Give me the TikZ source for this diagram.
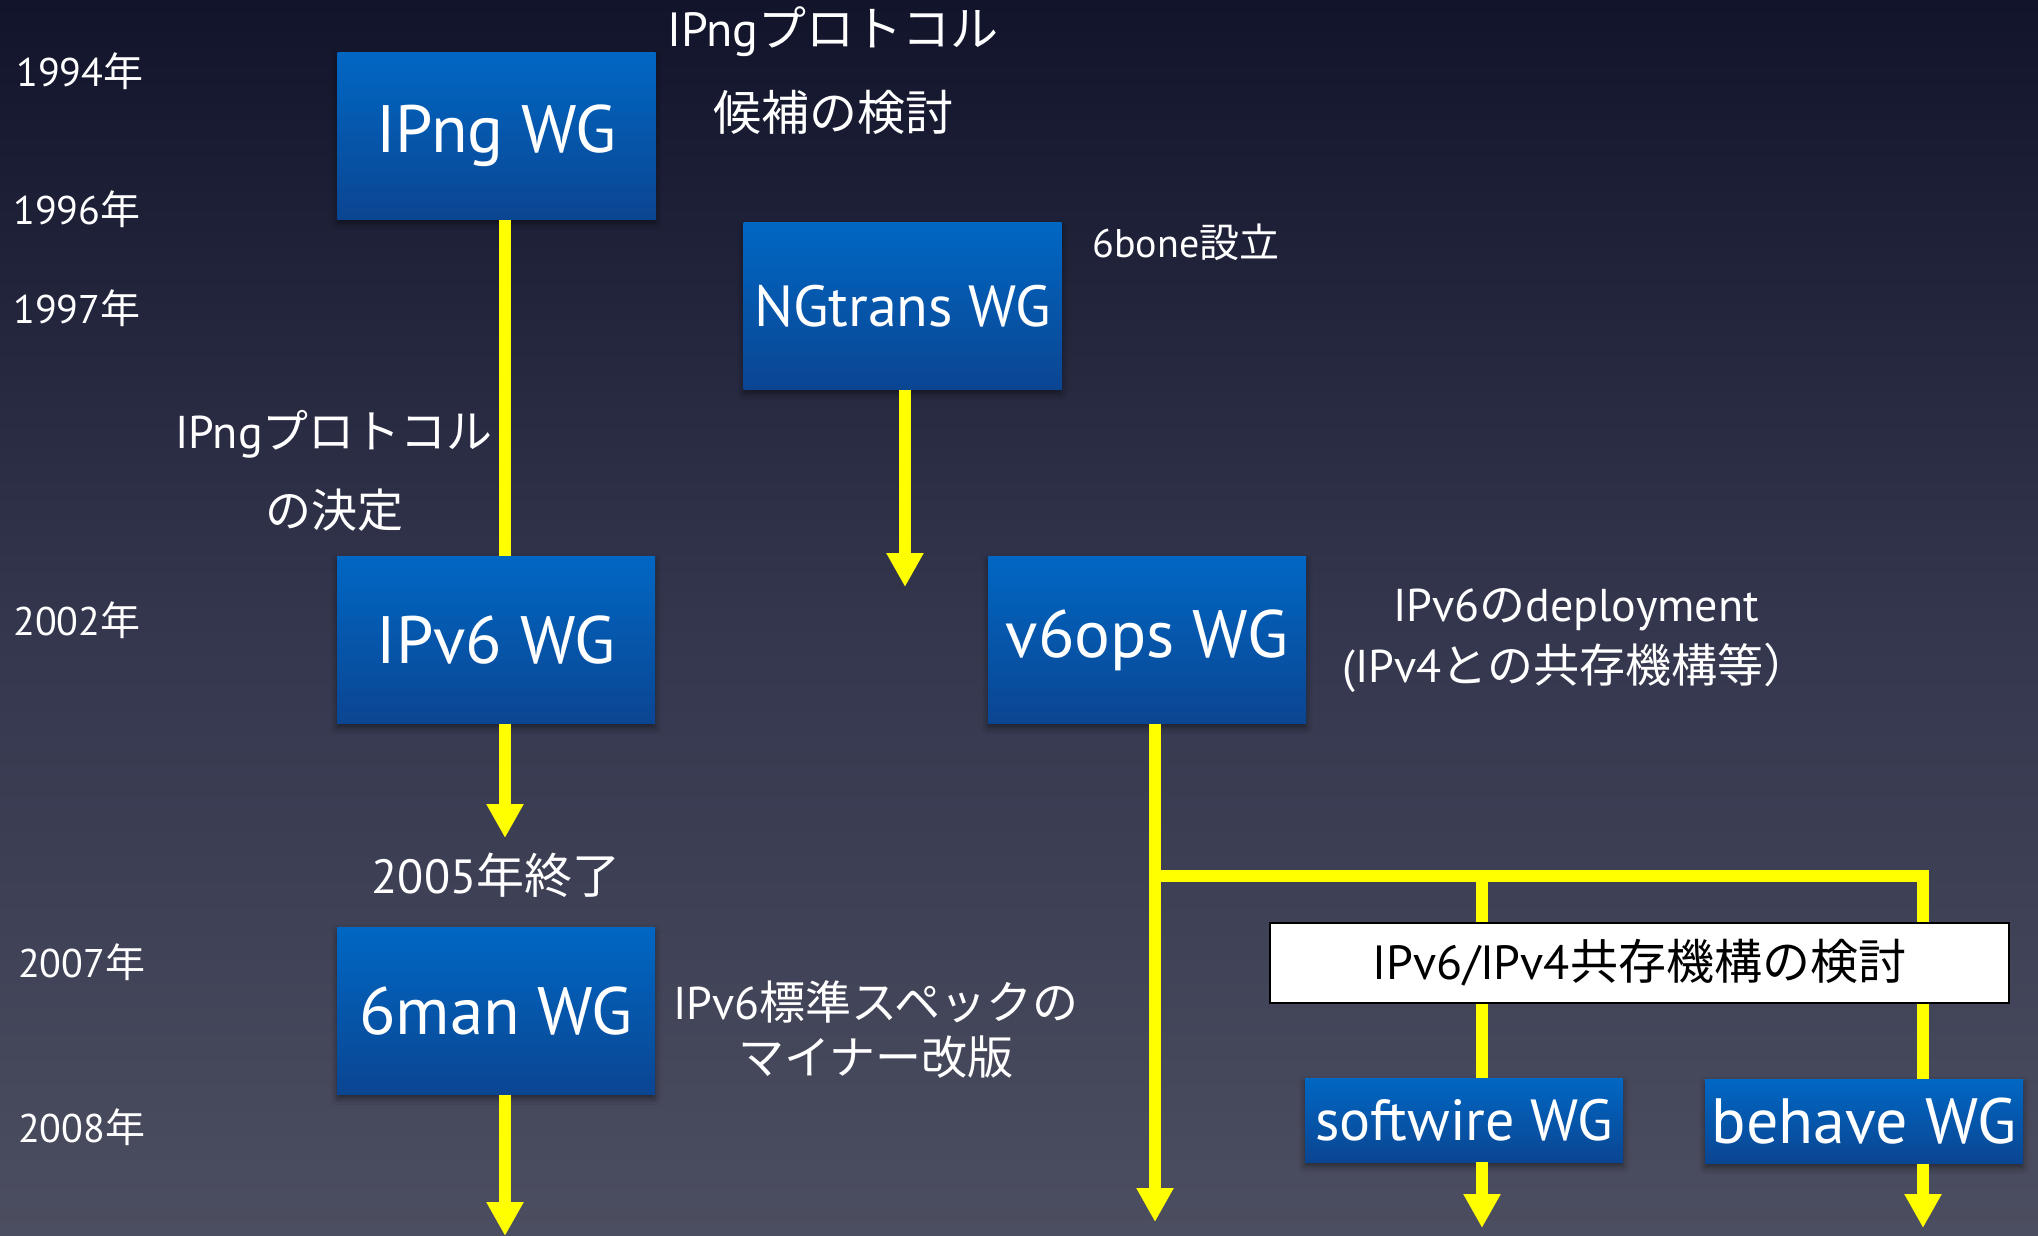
\documentclass[tikz,border=0pt]{standalone}
\usepackage{fontspec}
\setmainfont{PT Sans}
\newfontfamily\jp{Noto Sans CJK JP}
\usetikzlibrary{arrows.meta,shadows.blur}

\definecolor{bgtop}{HTML}{000003}
\definecolor{bgupper}{HTML}{0B0D24}
\definecolor{bgmid}{HTML}{33364D}
\definecolor{bgbot}{HTML}{646573}
\definecolor{boxtop}{HTML}{0067C3}
\definecolor{boxbot}{HTML}{0B4592}
\definecolor{flowyellow}{HTML}{FFFF00}

\pgfdeclareverticalshading{bgshade}{100bp}{%
  color(0bp)=(bgbot); color(50bp)=(bgmid); color(80bp)=(bgupper); color(100bp)=(bgtop)}

\begin{document}
\begin{tikzpicture}[x=1pt,y=-1pt,
  wg/.style={shade, top color=boxtop, bottom color=boxbot, text=white,
    minimum width=318pt, minimum height=167pt, inner sep=0pt,
    font=\fontsize{67}{70}\selectfont,
    blur shadow={shadow xshift=0pt, shadow yshift=-4pt,
      shadow blur radius=6pt, shadow opacity=45}},
  wgsmall/.style={wg, minimum height=84pt, font=\fontsize{58}{62}\selectfont},
  year/.style={text=white, anchor=west, inner sep=0pt,
    font=\fontsize{40}{44}\selectfont},
  note/.style={text=white, align=center, inner sep=0pt},
  flow/.style={draw=flowyellow, line width=12pt},
  flowarrow/.style={-{Triangle[width=35pt,length=34pt]}},
  topic/.style={draw=black, line width=1.2pt, fill=white, text=black,
    minimum width=739pt, minimum height=80pt, inner sep=0pt,
    font=\fontsize{48}{52}\selectfont}]

% backdrop
\fill[shading=bgshade] (0,0) rectangle (2038,1236);
\useasboundingbox (0,0) rectangle (2038,1236);

% years
\node[year] (y1994) at (16,71)   {1994{\jp 年}};
\node[year] (y1996) at (13,209)  {1996{\jp 年}};
\node[year] (y1997) at (13,308)  {1997{\jp 年}};
\node[year] (y2002) at (13,620)  {2002{\jp 年}};
\node[year] (y2007) at (18,962)  {2007{\jp 年}};
\node[year] (y2008) at (18,1127) {2008{\jp 年}};

% working groups
\node[wg] (ipng)    at (496.5,136)  {IPng WG};
\node[wg, font=\fontsize{58}{62}\selectfont] (ngtrans) at (902.5,306) {NGtrans WG};
\node[wg] (ipv6)    at (496,640)    {IPv6 WG};
\node[wg] (v6ops)   at (1147,640)   {v6ops WG};
\node[wg] (sixman)  at (496,1011)   {6man WG};
\node[wgsmall, font=\fontsize{58}{62}\selectfont] (softwire) at (1464,1120) {softwire WG};
\node[wgsmall, font=\fontsize{64}{68}\selectfont] (behave)   at (1864,1121.5) {behave WG};

% annotations
\node[note, font=\fontsize{48}{84}\selectfont] (ipngnote) at (833,71)
  {IPng{\jp プロトコル}\\{\jp 候補の検討}};
\node[note, font=\fontsize{40}{44}\selectfont] (sixbone) at (1186,242)
  {6bone{\jp 設立}};
\node[note, font=\fontsize{46}{79}\selectfont] (decide) at (334,471)
  {IPng{\jp プロトコル}\\{\jp の決定}};
\node[note, font=\fontsize{46}{61}\selectfont] (deploy) at (1576,641)
  {IPv6{\jp の}deployment\\(IPv4{\jp との共存機構等）}};
\node[note, font=\fontsize{48}{52}\selectfont] (ended) at (496,875)
  {2005{\jp 年終了}};
\node[note, font=\fontsize{46}{55}\selectfont] (minor) at (876,1029)
  {IPv6{\jp 標準スペックの}\\{\jp マイナー改版}};

% connector end points
\coordinate (ngend)    at (905,587);
\coordinate (ipv6end)  at (505,838);
\coordinate (manend)   at (505,1236);
\coordinate (opsend)   at (1155,1222);
\coordinate (split)    at (1155,876);
\coordinate (swjoin)   at (1482,876);
\coordinate (bhjoin)   at (1923,876);
\coordinate (swend)    at (1482,1228);
\coordinate (bhend)    at (1923,1228);

% connectors
\draw[flow] (ipng.south -| ipv6end) -- (ipv6.north -| ipv6end);
\draw[flow, flowarrow] (ngtrans.south -| ngend) -- (ngend);
\draw[flow, flowarrow] (ipv6.south -| ipv6end) -- (ipv6end);
\draw[flow, flowarrow] (sixman.south -| manend) -- (manend);
\draw[flow, flowarrow] (v6ops.south -| opsend) -- (opsend);
\draw[flow] (split) -- (bhjoin) -- (bhjoin |- behave.north);
\draw[flow] (swjoin) -- (swjoin |- softwire.north);
\draw[flow, flowarrow] (softwire.south -| swend) -- (swend);
\draw[flow, flowarrow] (behave.south -| bhend) -- (bhend);

% topic banner across the branches
\node[topic] (coexist) at (1639.5,963) {IPv6/IPv4{\jp 共存機構の検討}};

\end{tikzpicture}
\end{document}
